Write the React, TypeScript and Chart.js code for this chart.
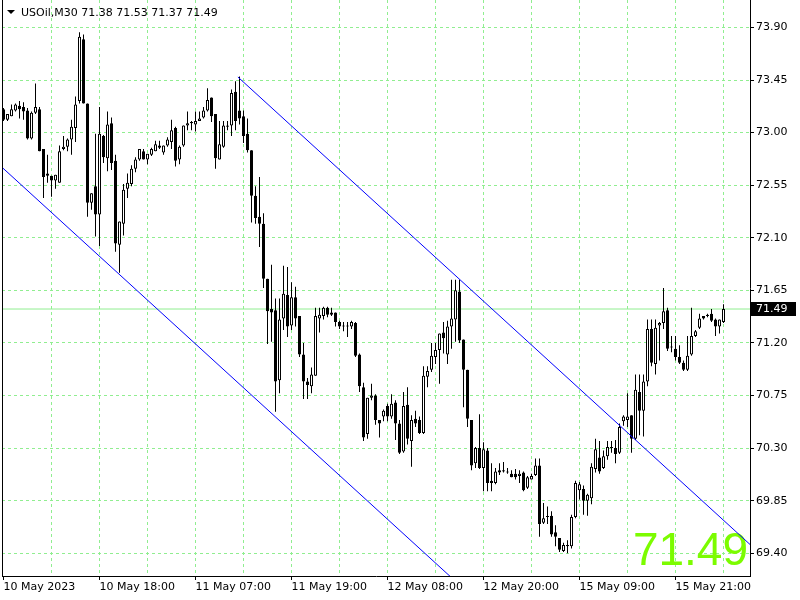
import { useEffect, useRef } from "react";
import { Chart, registerables } from "chart.js";

Chart.register(...registerables);

// ---- Data (USOil M30, one entry per bar) ----
const opens = [
  73.20, 73.11, 73.14, 73.19, 73.23, 73.22, 73.19, 72.95, 73.17, 73.20,
  72.86, 72.65, 72.63, 72.59, 72.57, 72.86, 72.88, 72.94, 73.04, 73.27,
  73.80, 73.25, 72.40, 72.54, 72.30, 72.97, 72.78, 73.08, 72.76, 72.04,
  72.22, 72.52, 72.56, 72.69, 72.77, 72.84, 72.77, 72.81, 72.84, 72.89,
  72.83, 72.89, 72.92, 73.04, 72.77, 72.89, 73.06, 73.09, 73.07, 73.10,
  73.13, 73.19, 73.30, 73.16, 72.77, 72.88, 73.06, 73.06, 73.35, 73.19,
  73.14, 72.99, 72.85, 72.46, 72.28, 72.22, 71.75, 71.49, 71.48, 70.88,
  71.41, 71.61, 71.35, 71.59, 71.43, 71.10, 70.87, 70.83, 70.92, 71.41,
  71.43, 71.50, 71.46, 71.46, 71.38, 71.35, 71.34, 71.34, 71.37, 71.10,
  70.82, 70.42, 70.73, 70.75, 70.54, 70.57, 70.66, 70.57, 70.69, 70.51,
  70.27, 70.67, 70.36, 70.55, 70.54, 70.43, 70.91, 70.97, 71.08, 71.14,
  71.29, 71.10, 71.34, 71.40, 71.64, 71.23, 70.97, 70.54, 70.17, 70.30,
  70.13, 70.28, 70.02, 70.00, 70.11, 70.10, 70.10, 70.08, 70.08, 70.06,
  70.09, 69.96, 70.03, 70.07, 70.15, 69.66, 69.71, 69.72, 69.58, 69.53,
  69.42, 69.47, 69.46, 69.71, 69.94, 69.95, 69.85, 69.87, 70.12, 70.22,
  70.13, 70.23, 70.31, 70.30, 70.26, 70.53, 70.54, 70.58, 70.38, 70.78,
  70.62, 70.87, 71.32, 71.02, 71.35, 71.37, 71.48, 71.16, 71.15, 71.08,
  71.03, 70.97, 71.10, 71.26, 71.33, 71.43, 71.44, 71.45, 71.40, 71.34,
  71.38,
];
const highs = [
  73.21, 73.16, 73.24, 73.25, 73.27, 73.26, 73.21, 73.18, 73.42, 73.22,
  72.86, 72.81, 72.63, 72.64, 72.89, 72.97, 72.95, 73.11, 73.31, 73.86,
  73.84, 73.25, 72.48, 72.99, 73.22, 72.98, 73.18, 73.13, 72.81, 72.24,
  72.56, 72.65, 72.72, 72.79, 72.86, 72.86, 72.82, 72.87, 72.93, 72.93,
  72.89, 72.96, 73.11, 73.05, 72.89, 73.06, 73.18, 73.10, 73.18, 73.18,
  73.22, 73.38, 73.30, 73.16, 73.10, 73.10, 73.10, 73.37, 73.44, 73.48,
  73.19, 73.12, 72.85, 72.54, 72.62, 72.31, 71.75, 71.87, 71.58, 71.58,
  71.86, 71.85, 71.72, 71.68, 71.43, 71.20, 70.90, 70.99, 71.50, 71.50,
  71.51, 71.51, 71.50, 71.46, 71.39, 71.38, 71.38, 71.39, 71.38, 71.11,
  70.86, 70.73, 70.85, 70.76, 70.54, 70.63, 70.68, 70.76, 70.71, 70.54,
  70.78, 70.82, 70.58, 70.62, 70.57, 71.00, 71.00, 71.20, 71.20, 71.28,
  71.38, 71.39, 71.74, 71.74, 71.74, 71.23, 70.97, 70.54, 70.31, 70.59,
  70.35, 70.30, 70.17, 70.13, 70.17, 70.18, 70.13, 70.11, 70.12, 70.11,
  70.10, 70.06, 70.08, 70.21, 70.21, 69.83, 69.80, 69.76, 69.64, 69.53,
  69.49, 69.51, 69.73, 70.02, 70.01, 69.98, 69.91, 70.17, 70.38, 70.36,
  70.28, 70.36, 70.36, 70.37, 70.51, 70.58, 70.77, 70.58, 70.93, 70.93,
  70.93, 71.40, 71.40, 71.40, 71.38, 71.67, 71.50, 71.26, 71.26, 71.18,
  71.05, 71.26, 71.50, 71.31, 71.45, 71.43, 71.45, 71.49, 71.41, 71.40,
  71.53,
];
const lows = [
  73.10, 73.10, 73.14, 73.18, 73.12, 73.11, 72.94, 72.94, 73.16, 72.84,
  72.44, 72.57, 72.45, 72.52, 72.57, 72.85, 72.84, 72.81, 72.92, 73.25,
  73.25, 72.28, 72.34, 72.11, 72.03, 72.74, 72.67, 72.68, 71.98, 71.80,
  72.12, 72.44, 72.54, 72.66, 72.76, 72.77, 72.73, 72.80, 72.84, 72.86,
  72.81, 72.88, 72.86, 72.71, 72.73, 72.88, 73.02, 73.02, 73.01, 73.10,
  73.12, 73.18, 73.09, 72.69, 72.77, 72.87, 73.02, 72.97, 73.02, 73.07,
  72.91, 72.83, 72.23, 72.22, 72.02, 71.67, 71.19, 71.21, 70.61, 70.77,
  71.31, 71.25, 71.31, 71.34, 71.08, 70.72, 70.72, 70.77, 70.92, 71.29,
  71.40, 71.42, 71.43, 71.34, 71.32, 71.30, 71.25, 71.32, 71.08, 70.78,
  70.36, 70.38, 70.71, 70.50, 70.39, 70.53, 70.53, 70.55, 70.37, 70.25,
  70.26, 70.33, 70.14, 70.48, 70.42, 70.42, 70.82, 70.95, 71.02, 70.85,
  71.11, 71.02, 71.15, 71.21, 71.20, 70.65, 70.48, 70.11, 70.13, 70.12,
  69.93, 69.93, 69.93, 69.99, 70.07, 70.09, 70.08, 70.05, 70.03, 70.00,
  69.93, 69.95, 70.03, 70.06, 69.54, 69.65, 69.65, 69.54, 69.46, 69.41,
  69.41, 69.40, 69.44, 69.70, 69.86, 69.73, 69.72, 69.82, 70.09, 70.08,
  70.12, 70.20, 70.26, 70.17, 70.25, 70.49, 70.48, 70.26, 70.37, 70.41,
  70.40, 70.83, 71.00, 70.93, 71.05, 71.32, 71.13, 71.12, 71.05, 71.02,
  70.96, 70.96, 71.09, 71.25, 71.32, 71.40, 71.42, 71.38, 71.26, 71.28,
  71.37,
];
const closes = [
  73.11, 73.16, 73.20, 73.24, 73.20, 73.18, 72.95, 73.17, 73.22, 72.84,
  72.62, 72.63, 72.59, 72.64, 72.84, 72.88, 72.94, 73.05, 73.24, 73.82,
  73.25, 72.40, 72.48, 72.30, 72.99, 72.79, 73.07, 72.74, 72.05, 72.24,
  72.51, 72.57, 72.69, 72.77, 72.86, 72.77, 72.82, 72.86, 72.90, 72.87,
  72.89, 72.94, 73.02, 72.76, 72.88, 73.06, 73.08, 73.08, 73.10, 73.12,
  73.19, 73.28, 73.14, 72.78, 72.90, 73.06, 73.05, 73.34, 73.10, 73.12,
  72.97, 72.85, 72.46, 72.27, 72.22, 71.75, 71.47, 71.46, 70.87, 71.40,
  71.62, 71.34, 71.59, 71.41, 71.10, 70.87, 70.84, 70.93, 71.43, 71.44,
  71.50, 71.44, 71.44, 71.38, 71.34, 71.34, 71.34, 71.38, 71.09, 70.83,
  70.39, 70.73, 70.75, 70.54, 70.51, 70.62, 70.57, 70.68, 70.51, 70.26,
  70.66, 70.38, 70.54, 70.51, 70.43, 70.92, 70.96, 71.09, 71.14, 71.28,
  71.24, 71.34, 71.41, 71.65, 71.22, 70.97, 70.55, 70.15, 70.30, 70.13,
  70.29, 70.00, 70.00, 70.10, 70.09, 70.11, 70.09, 70.05, 70.05, 70.08,
  69.94, 70.05, 70.06, 70.15, 69.65, 69.70, 69.71, 69.56, 69.54, 69.43,
  69.47, 69.46, 69.71, 70.00, 69.99, 69.85, 69.90, 70.14, 70.29, 70.10,
  70.23, 70.31, 70.30, 70.25, 70.48, 70.57, 70.57, 70.38, 70.80, 70.62,
  70.87, 71.32, 71.03, 71.33, 71.37, 71.47, 71.15, 71.16, 71.08, 71.03,
  70.97, 71.09, 71.26, 71.30, 71.41, 71.41, 71.43, 71.39, 71.34, 71.40,
  71.49,
];

// x ticks every 12 bars (bar index), labels on every other one
const xTickBars = [0, 12, 24, 36, 48, 60, 72, 84, 96, 108, 120, 132, 144, 156, 168, 180];
const xTickLabels = [
  "10 May 2023", "", "10 May 18:00", "", "11 May 07:00", "", "11 May 19:00", "",
  "12 May 08:00", "", "12 May 20:00", "", "15 May 09:00", "", "15 May 21:00", "",
];
const yTickValues = [69.40, 69.85, 70.30, 70.75, 71.20, 71.65, 72.10, 72.55, 73.00, 73.45, 73.90];

// Equidistant channel (bar index, price)
const upperChannel = [
  { x: 58.6, y: 73.476 },
  { x: 186.625, y: 69.475 },
];
const lowerChannel = [
  { x: -0.375, y: 72.703 },
  { x: 120, y: 68.941 },
];

const symbolName = "USOil,M30";
const lastBarOHLC = [71.38, 71.53, 71.37, 71.49];
const bidPrice = 71.49;

const GRID = "#90ee90";

export default function App() {
  const ref = useRef<HTMLCanvasElement>(null);

  useEffect(() => {
    const canvas = ref.current;
    if (!canvas) return;
    Chart.defaults.font.family = '"DejaVu Sans", Verdana, sans-serif';
    Chart.defaults.font.size = 11;

    const idx = opens.map((_, i) => i);
    const wickData = idx.map((i) => ({ x: i, y: [lows[i], highs[i]] }));
    const bodyData = idx.map((i) => ({ x: i, y: [opens[i], closes[i]] }));
    const bull = (i: number) => closes[i] >= opens[i];

    const overlay = {
      id: "mt4overlay",
      beforeDatasetsDraw(chart: any) {
        const ctx = chart.ctx;
        const { right, bottom } = chart.chartArea;
        ctx.save();
        ctx.font = '46px "Liberation Sans", Arial, sans-serif';
        ctx.fillStyle = "#7cfc00";
        ctx.textAlign = "right";
        ctx.textBaseline = "alphabetic";
        ctx.fillText(bidPrice.toFixed(2), right - 2, bottom - 11);
        ctx.restore();
      },
      afterDraw(chart: any) {
        const ctx = chart.ctx;
        const { left, top, right, bottom } = chart.chartArea;
        ctx.save();
        ctx.fillStyle = "#000";
        // left frame
        ctx.fillRect(left, top, 1, bottom - top + 1);
        // header triangle + text
        ctx.beginPath();
        ctx.moveTo(7, 10);
        ctx.lineTo(15, 10);
        ctx.lineTo(11, 14);
        ctx.closePath();
        ctx.fill();
        ctx.font = '11px "DejaVu Sans", Verdana, sans-serif';
        ctx.textAlign = "left";
        ctx.textBaseline = "alphabetic";
        ctx.fillText(
          symbolName + " " + lastBarOHLC.map((v) => v.toFixed(2)).join(" "),
          21,
          15.5
        );
        // bid price label on the axis
        const y = chart.scales.y.getPixelForValue(bidPrice);
        ctx.fillRect(right + 1, Math.round(y) - 7, 45, 14);
        ctx.fillStyle = "#fff";
        ctx.textBaseline = "middle";
        ctx.fillText(bidPrice.toFixed(2), right + 6, y);
        ctx.restore();
      },
    };

    const chart = new Chart(canvas, {
      type: "bar",
      data: {
        datasets: [
          {
            type: "line",
            label: "upper",
            data: upperChannel,
            borderColor: "#0000ff",
            borderWidth: 1,
            pointRadius: 0,
            tension: 0,
            fill: false,
            order: -2,
          } as any,
          {
            type: "line",
            label: "lower",
            data: lowerChannel,
            borderColor: "#0000ff",
            borderWidth: 1,
            pointRadius: 0,
            tension: 0,
            fill: false,
            order: -1,
          } as any,
          {
            label: "body",
            data: bodyData as any,
            grouped: false,
            barThickness: 3,
            maxBarThickness: 3,
            minBarLength: 1,
            borderWidth: 1,
            borderSkipped: false,
            inflateAmount: 0,
            borderColor: "#000",
            backgroundColor: (c: any) => (bull(c.dataIndex) ? "#ffffff" : "#000000"),
            order: 0,
          } as any,
          {
            label: "wick",
            data: wickData as any,
            grouped: false,
            barThickness: 1,
            maxBarThickness: 1,
            borderWidth: 0,
            inflateAmount: 0,
            backgroundColor: "#000",
            order: 1,
          } as any,
          {
            type: "line",
            label: "bid",
            data: [
              { x: -1, y: bidPrice },
              { x: 200, y: bidPrice },
            ],
            borderColor: GRID,
            borderWidth: 1,
            pointRadius: 0,
            fill: false,
            order: 5,
          } as any,
        ],
      },
      options: {
        animation: false,
        responsive: false,
        devicePixelRatio: 1,
        events: [],
        layout: { padding: { left: 2, top: 0, right: 0, bottom: 0 } },
        plugins: { legend: { display: false }, tooltip: { enabled: false } },
        scales: {
          x: {
            type: "linear",
            min: -0.375,
            max: 186.625,
            offset: false,
            afterBuildTicks: (s: any) => {
              s.ticks = xTickBars.map((v) => ({ value: v }));
            },
            afterFit: (s: any) => {
              s.height = 24;
              s.paddingLeft = 0;
              s.paddingRight = 0;
              s.paddingTop = 0;
              s.paddingBottom = 0;
            },
            ticks: {
              autoSkip: false,
              maxRotation: 0,
              minRotation: 0,
              align: "start",
              padding: 1,
              color: "#000",
              callback: (_v: any, i: number) => xTickLabels[i] ?? "",
            },
            grid: {
              offset: false,
              color: (c: any) => (c.index === 0 ? "rgba(0,0,0,0)" : GRID),
              tickColor: (c: any) => (xTickLabels[c.index] ? "#000" : "rgba(0,0,0,0)"),
              tickLength: 4,
              lineWidth: 1,
              borderDash: [3, 3],
            } as any,
            border: { display: true, color: "#000", width: 1, dash: [3, 3] },
          } as any,
          y: {
            type: "linear",
            position: "right",
            min: 69.205,
            max: 74.135,
            afterBuildTicks: (s: any) => {
              s.ticks = yTickValues.map((v) => ({ value: v }));
            },
            afterFit: (s: any) => {
              s.width = 50;
              s.paddingLeft = 0;
              s.paddingRight = 0;
              s.paddingTop = 0;
              s.paddingBottom = 0;
            },
            ticks: {
              padding: 2,
              color: "#000",
              callback: (v: any) => Number(v).toFixed(2),
            },
            grid: {
              color: GRID,
              tickColor: "#000",
              tickLength: 4,
              lineWidth: 1,
              borderDash: [3, 3],
            } as any,
            border: { display: true, color: "#000", width: 1, dash: [3, 3] },
          } as any,
        },
      } as any,
      plugins: [overlay as any],
    });

    return () => chart.destroy();
  }, []);

  return (
    <div
      style={{
        position: "absolute",
        left: 0,
        top: 0,
        width: 800,
        height: 600,
        background: "#fff",
      }}
    >
      <canvas ref={ref} width={800} height={600} style={{ display: "block" }} />
    </div>
  );
}
